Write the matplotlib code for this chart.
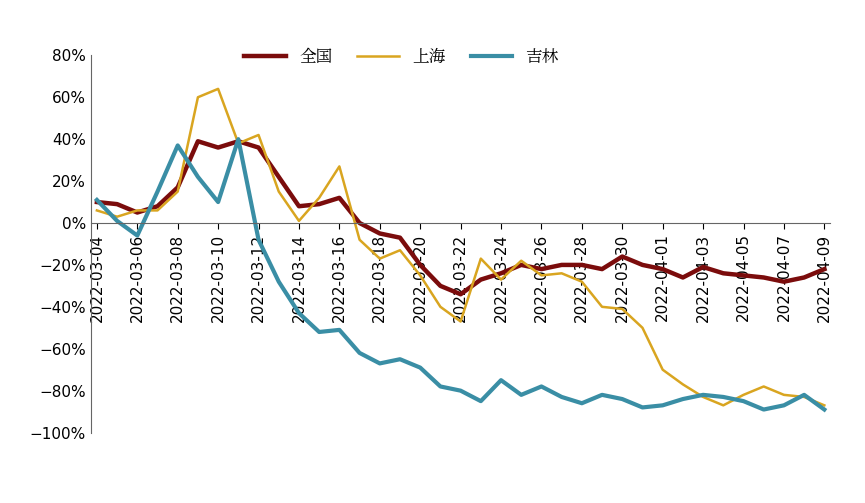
import numpy as np
import pandas as pd
import matplotlib.pyplot as plt
from matplotlib import font_manager
from matplotlib.ticker import PercentFormatter

cjk = [f.name for f in font_manager.fontManager.ttflist if 'CJK' in f.name]
plt.rcParams['font.family'] = ['DejaVu Sans'] + ([cjk[0]] if cjk else [])

dates = pd.date_range('2022-03-04', '2022-04-09', freq='D')
quanguo = [10, 9, 5, 8, 17, 39, 36, 39, 36, 22, 8, 9, 12, 0, -5, -7, -20, -30, -34, -27,
           -24, -20, -22, -20, -20, -22, -16, -20, -22, -26, -21, -24, -25, -26, -28, -26, -22]
shanghai = [6, 3, 6, 6, 15, 60, 64, 38, 42, 15, 1, 12, 27, -8, -17, -13, -25, -40, -47, -17,
            -27, -18, -25, -24, -28, -40, -41, -50, -70, -77, -83, -87, -82, -78, -82, -83, -87]
jilin = [11, 1, -6, 15, 37, 22, 10, 40, -8, -28, -43, -52, -51, -62, -67, -65, -69, -78, -80, -85,
         -75, -82, -78, -83, -86, -82, -84, -88, -87, -84, -82, -83, -85, -89, -87, -82, -89]

fig = plt.figure(figsize=(8.65, 5.03), dpi=100)
ax = fig.add_axes([0.105, 0.14, 0.855, 0.75])
x = np.arange(len(dates))
ax.plot(x, quanguo, color='#7b0c0c', lw=3.2, label='全国')
ax.plot(x, shanghai, color='#d9a520', lw=1.8, label='上海')
ax.plot(x, jilin, color='#3a8ea5', lw=3.0, label='吉林')

ax.set_ylim(-100, 80)
ax.set_yticks(range(-100, 81, 20))
ax.yaxis.set_major_formatter(PercentFormatter(decimals=0))
ax.set_xlim(-0.3, len(dates) - 0.7)
ticks = x[::2]
ax.set_xticks(ticks)
ax.set_xticklabels([dates[i].strftime('%Y-%m-%d') for i in ticks])
ax.tick_params(axis='y', labelsize=11, length=0)
ax.tick_params(axis='x', length=4, direction='out', labelsize=11, labelrotation=90)
ax.spines['bottom'].set_position(('data', 0))
ax.spines['top'].set_visible(False)
ax.spines['right'].set_visible(False)
ax.spines['left'].set_color('#666666')
ax.spines['bottom'].set_color('#666666')
ax.legend(loc='upper center', bbox_to_anchor=(0.42, 1.06), ncol=3, frameon=False,
          fontsize=12, handlelength=2.5, columnspacing=1.5)
fig.savefig('out.png')
